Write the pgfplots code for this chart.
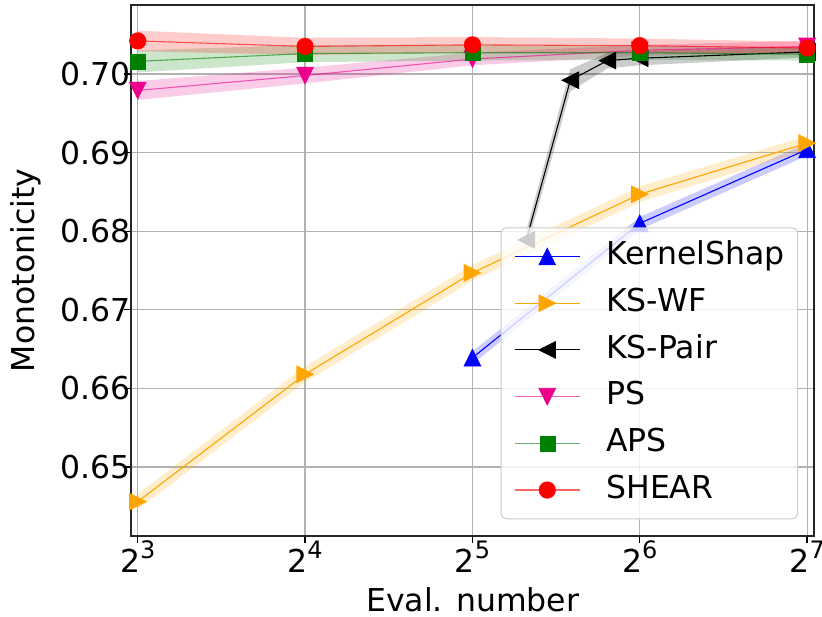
\documentclass[border=0pt]{standalone}
\usepackage{pgfplots}
\pgfplotsset{compat=1.18}
\usepackage{pgfplotstable}
\usepgfplotslibrary{fillbetween}
\usepackage{fontspec}
\setmainfont{DejaVu Sans}

\pgfdeclareplotmark{tup}{\pgfpathmoveto{\pgfqpoint{0pt}{\pgfplotmarksize}}\pgfpathlineto{\pgfqpoint{-\pgfplotmarksize}{-\pgfplotmarksize}}\pgfpathlineto{\pgfqpoint{\pgfplotmarksize}{-\pgfplotmarksize}}\pgfpathclose\pgfusepathqfillstroke}
\pgfdeclareplotmark{tdown}{\pgfpathmoveto{\pgfqpoint{0pt}{-\pgfplotmarksize}}\pgfpathlineto{\pgfqpoint{-\pgfplotmarksize}{\pgfplotmarksize}}\pgfpathlineto{\pgfqpoint{\pgfplotmarksize}{\pgfplotmarksize}}\pgfpathclose\pgfusepathqfillstroke}
\pgfdeclareplotmark{tleft}{\pgfpathmoveto{\pgfqpoint{-\pgfplotmarksize}{0pt}}\pgfpathlineto{\pgfqpoint{\pgfplotmarksize}{\pgfplotmarksize}}\pgfpathlineto{\pgfqpoint{\pgfplotmarksize}{-\pgfplotmarksize}}\pgfpathclose\pgfusepathqfillstroke}
\pgfdeclareplotmark{tright}{\pgfpathmoveto{\pgfqpoint{\pgfplotmarksize}{0pt}}\pgfpathlineto{\pgfqpoint{-\pgfplotmarksize}{\pgfplotmarksize}}\pgfpathlineto{\pgfqpoint{-\pgfplotmarksize}{-\pgfplotmarksize}}\pgfpathclose\pgfusepathqfillstroke}

\definecolor{mplorange}{RGB}{255,165,0}
\definecolor{mplgreen}{RGB}{0,128,0}

\pgfplotstableread{
x y lo hi
32 0.6639 0.6631 0.6647
64 0.6810 0.6802 0.6818
128 0.6904 0.6896 0.6912
}\tks
\pgfplotstableread{
x y lo hi
8 0.6456 0.6446 0.6466
16 0.6618 0.6608 0.6628
32 0.6747 0.6737 0.6757
64 0.6847 0.6837 0.6857
128 0.6912 0.6903 0.6921
}\tkswf
\pgfplotstableread{
x y lo hi
40 0.6789 0.6777 0.6801
48 0.6992 0.6978 0.7006
56 0.7017 0.7007 0.7027
64 0.7020 0.7011 0.7029
128 0.7028 0.7021 0.7035
}\tkspair
\pgfplotstableread{
x y lo hi
8 0.6979 0.6967 0.6991
16 0.6998 0.6988 0.7008
32 0.7019 0.7011 0.7027
64 0.7030 0.7023 0.7037
128 0.7035 0.7028 0.7042
}\tps
\pgfplotstableread{
x y lo hi
8 0.7016 0.7002 0.7030
16 0.7026 0.7015 0.7037
32 0.7027 0.7017 0.7037
64 0.7027 0.7018 0.7036
128 0.7025 0.7017 0.7033
}\taps
\pgfplotstableread{
x y lo hi
8 0.7042 0.7029 0.7055
16 0.7035 0.7024 0.7046
32 0.7037 0.7027 0.7047
64 0.7036 0.7027 0.7045
128 0.7033 0.7025 0.7041
}\tshear

\newcommand{\band}[3]{%
  \addplot[draw=none, forget plot, name path=#3u] table[x=x,y=hi]{#1};
  \addplot[draw=none, forget plot, name path=#3l] table[x=x,y=lo]{#1};
  \addplot[fill=#2, fill opacity=0.2, draw=none, forget plot] fill between[of=#3u and #3l];
}
\newcommand{\pw}[1]{2\raisebox{13.7pt}{\fontsize{24}{24}\selectfont #1}}
\newcommand{\bigf}{\fontsize{31.5}{37}\selectfont}

\begin{document}
\begin{tikzpicture}
\begin{axis}[
  at={(131.3pt,80pt)}, anchor=south west,
  scale only axis, width=682.7pt, height=531pt,
  xmode=log, log basis x=2,
  xmin=7.79, xmax=131.7,
  ymin=0.64123, ymax=0.70877,
  xtick={8,16,32,64,128},
  xticklabels={\pw{3},\pw{4},\pw{5},\pw{6},\pw{7}},
  minor xtick={},
  ytick={0.65,0.66,0.67,0.68,0.69,0.70},
  /pgf/number format/assume math mode=true,
  yticklabel style={/pgf/number format/fixed, /pgf/number format/fixed zerofill, /pgf/number format/precision=2, xshift=10pt},
  xticklabel shift=-5.5pt,
  grid=major, major grid style={line width=1.2pt, black!30},
  tick align=outside, major tick length=7pt, tick style={line width=1.3pt, black},
  xtick pos=bottom, ytick pos=left,
  axis line style={line width=1.8pt, black!85},
  tick label style={font=\bigf},
  label style={font=\bigf},
  xlabel={Eval. number}, ylabel={Monotonicity},
  xlabel style={at={(axis description cs:0.5,-0.096)}, anchor=north, inner sep=0pt},
  ylabel style={at={(axis description cs:-0.1767,0.5)}, anchor=north, inner sep=0pt},
  legend style={at={(axis description cs:0.5411,0.5814)}, anchor=north west, draw=black!20, line width=1pt, rounded corners=5pt, fill=white, fill opacity=0.8, text opacity=1, inner xsep=13pt, inner ysep=14pt, row sep=17.2pt, font=\bigf, nodes={inner sep=0pt, text height=23pt, text depth=6.5pt}, /tikz/every odd column/.append style={column sep=26pt}},
  legend cell align=left,
  legend image code/.code={\draw[mark repeat=2, mark phase=2, #1] plot coordinates {(0pt,0pt) (32.5pt,0pt) (65pt,0pt)};},
]
\band{\tks}{blue}{a}
\band{\tkswf}{mplorange}{b}
\band{\tkspair}{black}{c}
\band{\tps}{magenta}{d}
\band{\taps}{mplgreen}{e}
\band{\tshear}{red}{f}

\addplot[blue, line width=1.1pt, mark=tup, mark size=8.3pt, mark options={solid, fill=blue, line width=0.8pt, fill opacity=1, draw opacity=1}] table[x=x,y=y]{\tks};
\addlegendentry{KernelShap}
\addplot[mplorange, line width=1.1pt, mark=tright, mark size=8.3pt, mark options={solid, fill=mplorange, line width=0.8pt, fill opacity=1, draw opacity=1}] table[x=x,y=y]{\tkswf};
\addlegendentry{KS-WF}
\addplot[black, line width=1.1pt, mark=tleft, mark size=8.3pt, mark options={solid, fill=black, line width=0.8pt, fill opacity=1, draw opacity=1}] table[x=x,y=y]{\tkspair};
\addlegendentry{KS-Pair}
\addplot[magenta, draw opacity=0.6, line width=1.1pt, mark=tdown, mark size=8.3pt, mark options={solid, fill=magenta, line width=0.8pt, fill opacity=1, draw opacity=1}] table[x=x,y=y]{\tps};
\addlegendentry{PS}
\addplot[mplgreen, draw opacity=0.6, line width=1.1pt, mark=square*, mark size=7.5pt, mark options={solid, fill=mplgreen, line width=0.5pt, fill opacity=1, draw opacity=1}] table[x=x,y=y]{\taps};
\addlegendentry{APS}
\addplot[red, draw opacity=0.6, line width=1.1pt, mark=*, mark size=8.3pt, mark options={solid, fill=red, line width=0.5pt, fill opacity=1, draw opacity=1}] table[x=x,y=y]{\tshear};
\addlegendentry{SHEAR}
\end{axis}
\pgfresetboundingbox
\path[use as bounding box] (0,0) rectangle (822pt,616pt);
\end{tikzpicture}
\end{document}
